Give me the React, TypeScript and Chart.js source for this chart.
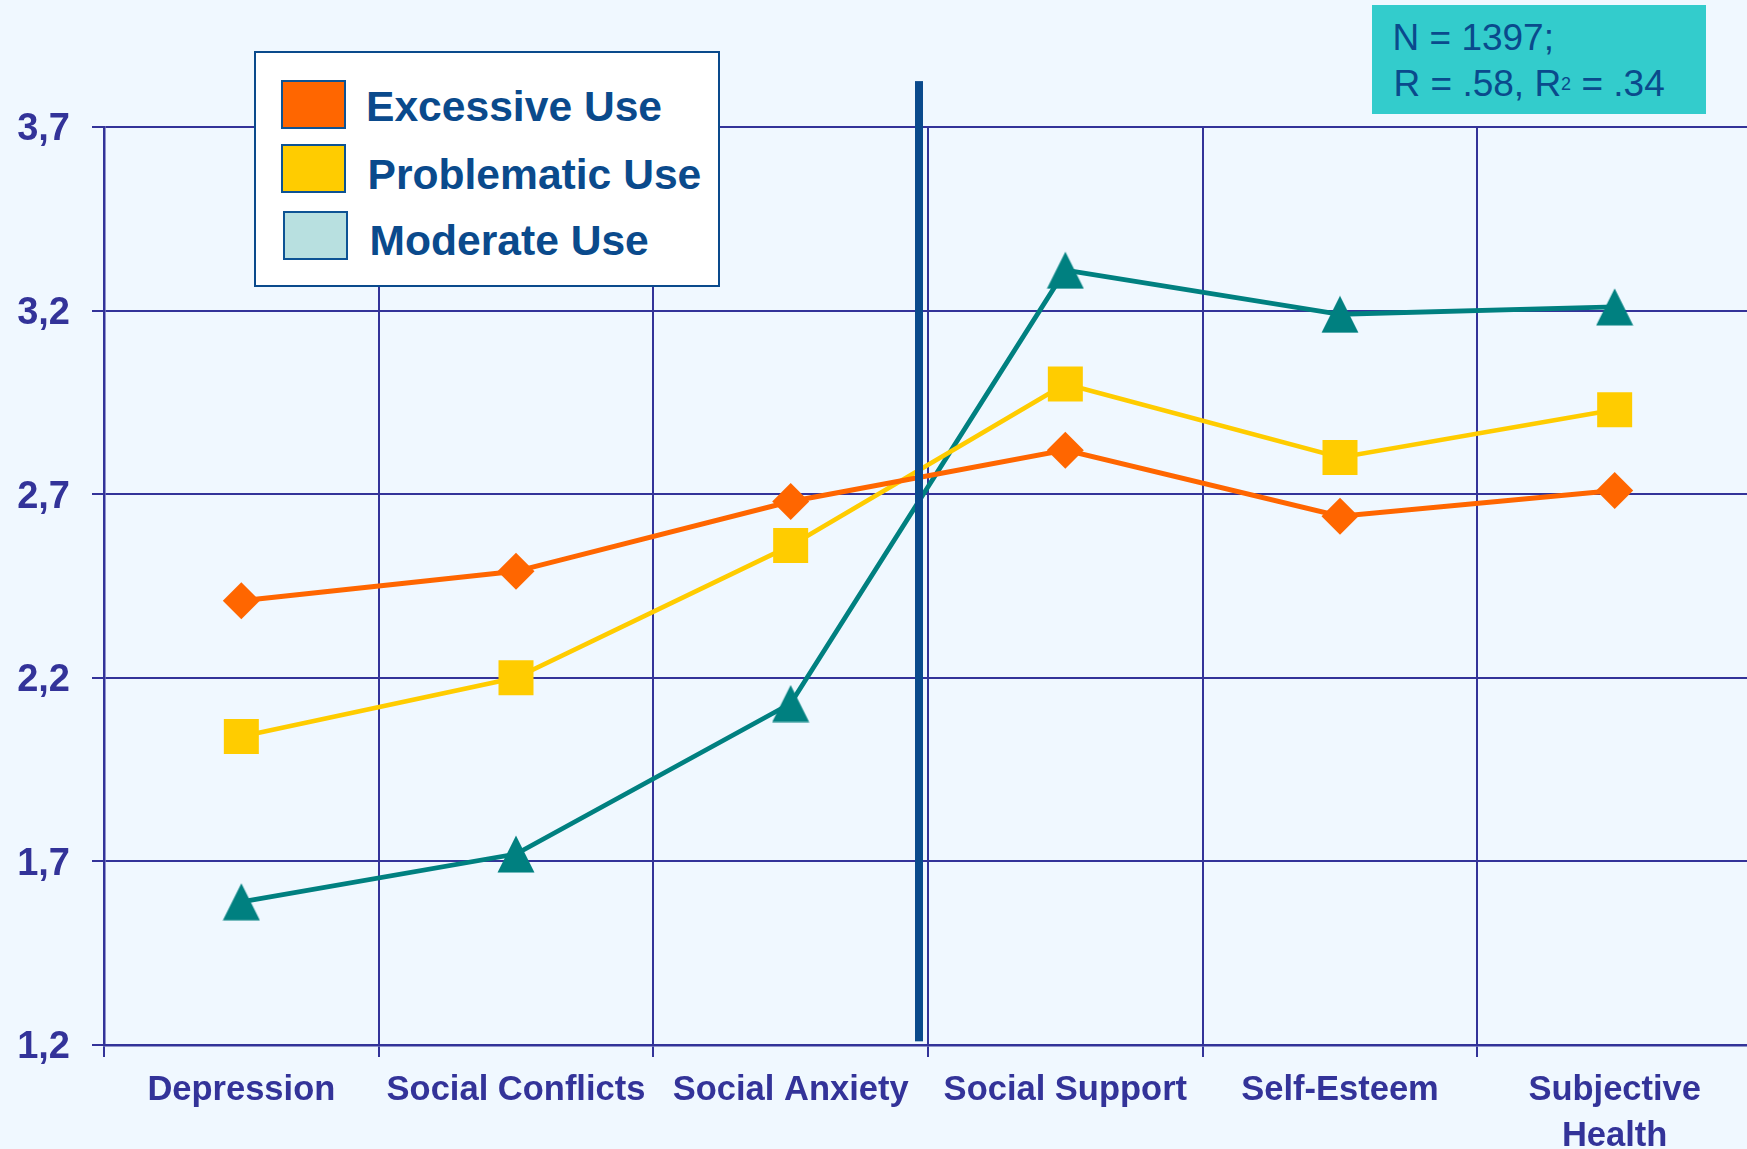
import React, { useEffect, useRef } from 'react';
import { Chart, registerables } from 'chart.js';

Chart.register(...registerables);

// ---- data ----
const categories: (string | string[])[] = [
  'Depression',
  'Social Conflicts',
  'Social Anxiety',
  'Social Support',
  'Self-Esteem',
  ['Subjective', 'Health'],
];
const seriesNames = ['Excessive Use', 'Problematic Use', 'Moderate Use'];
const excessiveUse = [2.41, 2.49, 2.68, 2.82, 2.64, 2.71];
const problematicUse = [2.04, 2.2, 2.56, 3.0, 2.8, 2.93];
const moderateUse = [1.59, 1.72, 2.13, 3.31, 3.19, 3.21];
const yTickValues = [1.2, 1.7, 2.2, 2.7, 3.2, 3.7];
const statsLine1 = 'N = 1397;';
const statsLine2a = 'R = .58, R';
const statsLine2sup = '2';
const statsLine2b = ' = .34';

// ---- styles ----
const FONT = "'Liberation Sans', Arial, Helvetica, sans-serif";
const AXIS_COLOR = '#333399';
const DARK_BLUE = '#0A4A8C';
const seriesColors = ['#FF6600', '#FFCC00', '#008080'];
const swatchColors = ['#FF6600', '#FFCC00', '#B8E0E0'];
const BG = '#F0F8FF';

function makeTriangle(color: string): HTMLCanvasElement {
  const c = document.createElement('canvas');
  c.width = 38;
  c.height = 38;
  const g = c.getContext('2d')!;
  g.fillStyle = color;
  g.beginPath();
  g.moveTo(19, 0.5);
  g.lineTo(37.5, 37.5);
  g.lineTo(0.5, 37.5);
  g.closePath();
  g.fill();
  return c;
}

const dividerPlugin = {
  id: 'dividerLine',
  afterDatasetsDraw(chart: any) {
    const xs = chart.scales.x;
    const ys = chart.scales.y;
    const ctx = chart.ctx;
    const px = (xs.getPixelForValue(2) + xs.getPixelForValue(3)) / 2 - 9;
    const top = ys.getPixelForValue(3.825);
    const bottom = ys.getPixelForValue(1.21);
    ctx.save();
    ctx.fillStyle = DARK_BLUE;
    ctx.fillRect(px - 4, top, 8, bottom - top);
    ctx.restore();
  },
};

export default function App() {
  const ref = useRef<HTMLCanvasElement | null>(null);

  useEffect(() => {
    if (!ref.current) return;
    const tri = makeTriangle(seriesColors[2]);
    const chart = new Chart(ref.current, {
      type: 'line',
      data: {
        labels: categories as any,
        datasets: [
          {
            label: seriesNames[0],
            data: excessiveUse,
            borderColor: seriesColors[0],
            backgroundColor: seriesColors[0],
            borderWidth: 5,
            pointStyle: 'rectRot',
            pointRadius: 18.5,
            pointBorderWidth: 0,
            pointBackgroundColor: seriesColors[0],
            tension: 0,
          },
          {
            label: seriesNames[1],
            data: problematicUse,
            borderColor: seriesColors[1],
            backgroundColor: seriesColors[1],
            borderWidth: 4.6,
            pointStyle: 'rect',
            pointRadius: 24.75,
            pointBorderWidth: 0,
            pointBackgroundColor: seriesColors[1],
            tension: 0,
          },
          {
            label: seriesNames[2],
            data: moderateUse,
            borderColor: seriesColors[2],
            backgroundColor: seriesColors[2],
            borderWidth: 4.8,
            pointStyle: tri as any,
            pointRadius: 19,
            pointBorderWidth: 0,
            tension: 0,
          },
        ],
      },
      options: {
        responsive: false,
        animation: false,
        devicePixelRatio: 1,
        layout: { autoPadding: false, padding: { top: 127, right: 8, left: 0, bottom: 0 } },
        plugins: {
          legend: { display: false },
          tooltip: { enabled: false },
        },
        scales: {
          x: {
            type: 'category',
            offset: true,
            grid: {
              offset: true,
              color: AXIS_COLOR,
              lineWidth: 2,
              tickLength: 12,
              drawTicks: true,
            },
            border: { color: AXIS_COLOR, width: 2.5 },
            ticks: {
              color: AXIS_COLOR,
              font: { family: FONT, size: 34.5, weight: 'bold', lineHeight: 1.325 },
              padding: 10.6,
              maxRotation: 0,
              minRotation: 0,
              autoSkip: false,
            },
            afterFit: (s: any) => {
              s.height = 104;
            },
          },
          y: {
            min: 1.2,
            max: 3.7,
            grid: {
              color: AXIS_COLOR,
              lineWidth: 2,
              tickLength: 12,
              drawTicks: true,
            },
            border: { color: AXIS_COLOR, width: 2.5 },
            ticks: {
              color: AXIS_COLOR,
              font: { family: FONT, size: 38, weight: 'bold' },
              padding: 22,
              labelOffset: 3,
              callback: (v: any) => Number(v).toFixed(1).replace('.', ','),
            },
            afterBuildTicks: (s: any) => {
              s.ticks = yTickValues.map((v) => ({ value: v }));
            },
            afterFit: (s: any) => {
              s.width = 104;
            },
          },
        },
      } as any,
      plugins: [dividerPlugin],
    });
    return () => chart.destroy();
  }, []);

  const legendTop = [84.6, 153.1, 219.1];
  const legendTextLeft = [366, 367.5, 369.5];
  const swatchPos = [
    { left: 281, top: 79.5 },
    { left: 281, top: 143.5 },
    { left: 283, top: 210.5 },
  ];

  return (
    <div
      style={{
        position: 'fixed',
        left: 0,
        top: 0,
        width: 1747,
        height: 1149,
        overflow: 'hidden',
        background: BG,
        fontFamily: FONT,
      }}
    >
      <canvas
        ref={ref}
        width={1760}
        height={1149}
        style={{ position: 'absolute', left: 0, top: 0, width: 1760, height: 1149 }}
      />
      {/* legend */}
      <div
        style={{
          position: 'absolute',
          left: 253.5,
          top: 50.5,
          width: 466,
          height: 236,
          boxSizing: 'border-box',
          border: `2px solid ${DARK_BLUE}`,
          background: '#FFFFFF',
        }}
      />
      {seriesNames.map((name, i) => (
        <React.Fragment key={name}>
          <div
            style={{
              position: 'absolute',
              left: swatchPos[i].left,
              top: swatchPos[i].top,
              width: 65,
              height: 49,
              boxSizing: 'border-box',
              border: `2px solid #0D5394`,
              background: swatchColors[i],
            }}
          />
          <div
            style={{
              position: 'absolute',
              left: legendTextLeft[i],
              top: legendTop[i],
              fontSize: 42.6,
              lineHeight: '42.6px',
              fontWeight: 'bold',
              color: DARK_BLUE,
              whiteSpace: 'nowrap',
            }}
          >
            {name}
          </div>
        </React.Fragment>
      ))}
      {/* stats box */}
      <div
        style={{
          position: 'absolute',
          left: 1372,
          top: 5,
          width: 334,
          height: 109,
          background: '#33CCCC',
        }}
      />
      <div
        style={{
          position: 'absolute',
          left: 1392.5,
          top: 19.4,
          fontSize: 37,
          lineHeight: '37px',
          color: DARK_BLUE,
          whiteSpace: 'nowrap',
        }}
      >
        {statsLine1}
      </div>
      <div
        style={{
          position: 'absolute',
          left: 1393.5,
          top: 65.4,
          fontSize: 37,
          lineHeight: '37px',
          color: DARK_BLUE,
          whiteSpace: 'nowrap',
        }}
      >
        {statsLine2a}
        <span style={{ fontSize: 18, position: 'relative', top: -6 }}>{statsLine2sup}</span>
        {statsLine2b}
      </div>
    </div>
  );
}
